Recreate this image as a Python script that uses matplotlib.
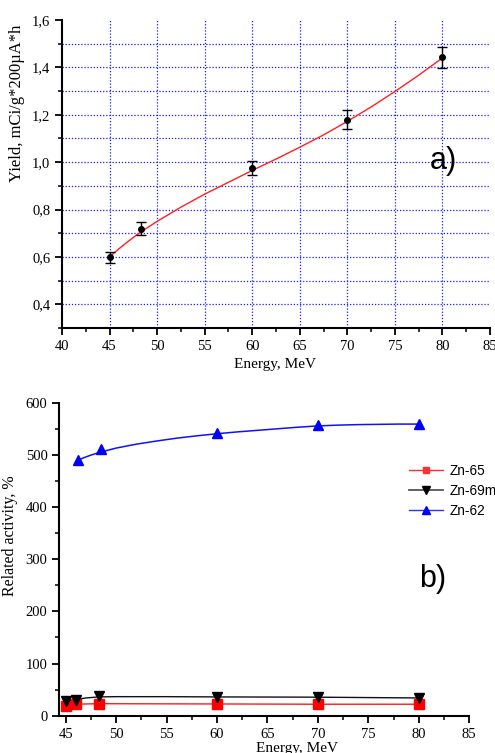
import numpy as np
import matplotlib
matplotlib.use("Agg")
import matplotlib.pyplot as plt
from matplotlib.ticker import MultipleLocator, FuncFormatter

# ---------------------------------------------------------------------------
# data
# ---------------------------------------------------------------------------

# a) yield vs energy
energy_a = [45.0, 48.3, 60.0, 70.0, 80.0]
yield_a = [0.598, 0.719, 0.975, 1.180, 1.442]
yield_err = [0.022, 0.027, 0.028, 0.040, 0.045]
fit_x = [45, 46, 47, 48, 49, 50, 52.5, 55, 57.5, 60, 62.5, 65, 67.5, 70, 72.5, 75, 77.5, 80]
fit_y = [0.600, 0.635, 0.667, 0.697, 0.724, 0.750, 0.810, 0.865, 0.915, 0.965,
         1.013, 1.063, 1.115, 1.172, 1.233, 1.298, 1.367, 1.440]

# b) related activity
zn65_x = [45.0, 46.0, 48.3, 60.0, 70.0, 80.0]
zn65_y = [18, 22, 23, 23, 22, 22]
zn65_fit_x = [45, 46, 47, 48.3, 60, 70, 80]
zn65_fit_y = [19, 22, 22.5, 23, 22.5, 22, 22]

zn69m_x = [45.0, 46.0, 48.3, 60.0, 70.0, 80.0]
zn69m_y = [28, 30, 37, 35, 35, 34]
zn69m_fit_x = [45, 46, 47, 48.3, 50, 55, 60, 70, 80]
zn69m_fit_y = [28, 31, 34, 36, 36.5, 36.5, 36, 35.5, 34]

zn62_x = [46.2, 48.5, 60.0, 70.0, 80.0]
zn62_y = [490, 512, 542, 558, 559]
zn62_fit_x = [46.2, 46.6, 47, 47.5, 48, 48.5, 49, 50, 52, 54, 56, 58, 60, 62, 64,
              66, 68, 70, 72, 74, 76, 78, 80]
zn62_fit_y = [489, 493, 496, 499.5, 502.5, 505.5, 508, 513, 520.5, 526.5, 532, 536.5,
              540.5, 544, 547, 550, 553, 555.5, 557, 558, 558.5, 559, 559]

SERIF = "Liberation Serif"
SANS = "Liberation Sans"

fig = plt.figure(figsize=(4.95, 7.53), dpi=100)


def style_axes(ax):
    for s in ("top", "right"):
        ax.spines[s].set_visible(False)
    for s in ("left", "bottom"):
        ax.spines[s].set_linewidth(1.5)
    ax.tick_params(which="major", direction="out", length=5, width=1.3,
                   labelsize=10.5)
    ax.tick_params(which="minor", direction="out", length=3, width=1.1)
    for lbl in ax.get_xticklabels() + ax.get_yticklabels():
        lbl.set_fontfamily(SERIF)


# ---------------------------------------------------------------------------
# a) panel
# ---------------------------------------------------------------------------
ax1 = fig.add_axes([62 / 495, 1 - 328 / 753, 428 / 495, 308 / 753])
ax1.set_xlim(40, 85)
ax1.set_ylim(0.3, 1.6)
ax1.xaxis.set_major_locator(MultipleLocator(5))
ax1.xaxis.set_minor_locator(MultipleLocator(2.5))
ax1.yaxis.set_major_locator(MultipleLocator(0.2))
ax1.yaxis.set_minor_locator(MultipleLocator(0.1))
ax1.yaxis.set_major_formatter(FuncFormatter(lambda v, p: f"{v:.1f}".replace(".", ",")))

# dotted blue grid, only inside the frame
grid_kw = dict(color="#1a1aff", lw=0.9, ls=(0, (1, 1.5)), zorder=0)
for x in np.arange(45, 81, 5):
    ax1.axvline(x, **grid_kw)
for y in np.arange(0.4, 1.55, 0.1):
    ax1.axhline(y, **grid_kw)

ax1.plot(fit_x, fit_y, color="#ff2020", lw=1.0, zorder=2)
ax1.errorbar(energy_a, yield_a, yerr=yield_err, fmt="o", color="black",
             ms=4, capsize=3.5, elinewidth=1.0, capthick=1.0, zorder=3)
style_axes(ax1)
ax1.set_xlabel("Energy, MeV", fontfamily=SERIF, fontsize=11)
ax1.xaxis.set_label_coords(0.498, -0.097)
ax1.set_ylabel("Yield, mCi/g*200\u00b5A*h", fontfamily=SERIF, fontsize=12)
ax1.yaxis.set_label_coords(-0.086, 0.729)
fig.text(443 / 495, 1 - 161 / 753, "a)", fontfamily=SANS, fontsize=22,
         ha="center", va="center")

# ---------------------------------------------------------------------------
# b) panel
# ---------------------------------------------------------------------------
ax2 = fig.add_axes([59.3 / 495, 1 - 715.7 / 753, 410 / 495, 313 / 753])
ax2.set_xlim(44.37, 85)
ax2.set_ylim(0, 600)
ax2.xaxis.set_major_locator(MultipleLocator(5))
ax2.xaxis.set_minor_locator(MultipleLocator(2.5))
ax2.yaxis.set_major_locator(MultipleLocator(100))
ax2.yaxis.set_minor_locator(MultipleLocator(50))

ax2.plot(zn65_fit_x, zn65_fit_y, color="#ff1a1a", lw=1.0, zorder=2)
ax2.plot(zn69m_fit_x, zn69m_fit_y, color="#111111", lw=1.0, zorder=2)
ax2.plot(zn62_fit_x, zn62_fit_y, color="#1010ff", lw=1.1, zorder=2)
ax2.plot(zn65_x, zn65_y, ls="none", marker="s", ms=6.5, color="#ff0000",
         clip_on=False, zorder=3)
ax2.plot(zn69m_x, zn69m_y, ls="none", marker="v", ms=7.5, color="black",
         clip_on=False, zorder=3)
ax2.plot(zn62_x, zn62_y, ls="none", marker="^", ms=7.5, color="#0000ff",
         clip_on=False, zorder=3)

h65, = ax2.plot([], [], color="#ff3030", lw=1.0, marker="s", ms=5)
h69, = ax2.plot([], [], color="#555555", lw=1.3, marker="v", ms=6, mfc="black", mec="black")
h62, = ax2.plot([], [], color="#3030ff", lw=1.0, marker="^", ms=6, mfc="#0000ff", mec="#0000ff")
fig.legend([h65, h69, h62], ["Zn-65", "Zn-69m", "Zn-62"], loc="upper left",
           bbox_to_anchor=(409 / 495, 1 - 464 / 753), frameon=False,
           prop={"family": SANS, "size": 9.8}, handlelength=2.5,
           handletextpad=0.45, labelspacing=0.45, borderpad=0, borderaxespad=0)

style_axes(ax2)
ax2.set_xlabel("Energy, MeV", fontfamily=SERIF, fontsize=11)
ax2.xaxis.set_label_coords(0.58, -0.085)
ax2.set_ylabel("Related activity, %", fontfamily=SERIF, fontsize=11.5)
ax2.yaxis.set_label_coords(-0.1, 0.574)
fig.text(433 / 495, 1 - 579 / 753, "b)", fontfamily=SANS, fontsize=22,
         ha="center", va="center")

fig.savefig("out.png", dpi=100)
